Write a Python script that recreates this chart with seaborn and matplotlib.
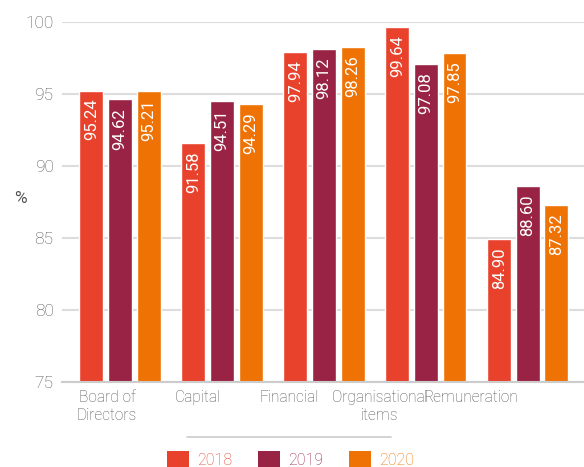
import numpy as np
import pandas as pd
import matplotlib
matplotlib.use("Agg")
import matplotlib.pyplot as plt
import seaborn as sns
from matplotlib.lines import Line2D
from matplotlib.patches import Patch

categories = ["Board of\nDirectors", "Capital", "Financial", "Organisational\nitems", "Remuneration"]
years = ["2018", "2019", "2020"]
vals_2018 = [95.24, 91.58, 97.94, 99.64, 84.90]
vals_2019 = [94.62, 94.51, 98.12, 97.08, 88.60]
vals_2020 = [95.21, 94.29, 98.26, 97.85, 87.32]
colors = ["#E8422D", "#982344", "#EE7204"]

sns.set_theme(style="white")
plt.rcParams["font.family"] = ["Roboto", "DejaVu Sans"]
plt.rcParams["font.weight"] = "light"

df = pd.DataFrame({
    "cat": np.tile(np.arange(len(categories)), 3),
    "year": np.repeat(years, len(categories)),
    "val": vals_2018 + vals_2019 + vals_2020,
})

fig = plt.figure(figsize=(5.84, 4.67), dpi=100)
ax = fig.add_axes([0.106, 0.182, 0.894, 0.771])

sns.barplot(data=df, x="cat", y="val", hue="year", palette=colors,
            width=0.84, gap=0.16, saturation=1, ax=ax, legend=False,
            native_scale=True)

# value labels inside the bar tops
for cont in ax.containers:
    for bar in cont:
        h = bar.get_height()
        ax.annotate(f"{h:.2f}", (bar.get_x() + bar.get_width() / 2, h),
                    xytext=(0, -6), textcoords="offset points",
                    ha="center", va="top", rotation=90,
                    color="white", fontsize=12, fontweight="normal")

ax.set_ylim(75, 100)
ax.set_xlim(-0.57, 4.55)
ax.set_yticks([75, 80, 85, 90, 95, 100])
ax.yaxis.grid(True, color="#dddddd", linewidth=1.5)
ax.set_axisbelow(True)
for s in ["top", "right", "left"]:
    ax.spines[s].set_visible(False)
ax.spines["bottom"].set_color("#cccccc")
ax.spines["bottom"].set_linewidth(1.5)

# category labels sit slightly left of the bar groups
label_pos = [-0.127 + 0.892 * i for i in range(len(categories))]
ax.set_xticks(label_pos)
ax.set_xticklabels(categories, linespacing=1.25)
ax.tick_params(axis="y", length=0, labelsize=12.5, labelcolor="#555555", pad=6)
ax.tick_params(axis="x", length=0, labelsize=11.2, labelcolor="#555555", pad=6)
ax.set_xlabel("")
ax.set_ylabel("%", rotation=0, fontsize=12.5, color="#555555")
ax.yaxis.set_label_coords(-0.08, 0.49)

# separator line above legend
fig.add_artist(Line2D([187 / 584, 391 / 584], [1 - 437 / 467, 1 - 437 / 467],
                      color="#cccccc", linewidth=1.2))

handles = [Patch(facecolor=c, edgecolor="none") for c in colors]
leg = fig.legend(handles, years, loc="upper center", ncol=3,
                 bbox_to_anchor=(0.497, 1 - 443 / 467), frameon=False,
                 fontsize=11.5, handlelength=1.4, handleheight=1.2,
                 handletextpad=0.5, columnspacing=1.6, borderpad=0,
                 labelcolor=colors)

fig.savefig("out.png", dpi=100)
